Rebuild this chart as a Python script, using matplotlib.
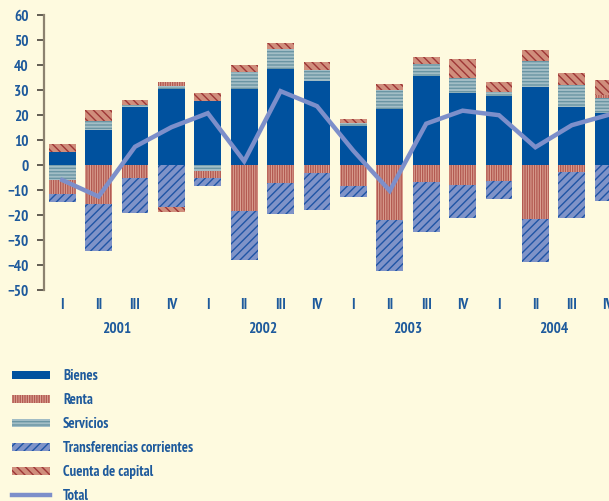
import matplotlib.pyplot as plt
import numpy as np
from matplotlib.patches import Rectangle
from matplotlib.lines import Line2D
from matplotlib.transforms import blended_transform_factory

quarters = ["I", "II", "III", "IV"] * 4
years = ["2001", "2002", "2003", "2004"]

bienes = [5.1, 13.9, 23.0, 30.3, 25.6, 30.3, 38.4, 33.5, 15.5, 22.3, 35.5, 28.7, 27.6, 31.2, 23.2, 20.8]
servicios = [-6.1, 3.7, 1.0, 1.1, -2.4, 6.7, 7.9, 4.4, 1.2, 7.4, 4.7, 5.9, 1.4, 10.3, 8.8, 5.9]
renta = [-5.6, -15.7, -5.3, 1.7, -2.9, -18.5, -7.2, -3.2, -8.5, -22.1, -6.9, -8.0, -6.4, -21.7, -2.9, 1.2]
transferencias = [-3.1, -18.7, -13.9, -16.9, -3.1, -19.5, -12.4, -14.8, -4.3, -20.3, -19.9, -13.2, -7.2, -17.1, -18.3, -14.4]
capital = [3.2, 4.3, 1.9, -1.9, 3.0, 2.9, 2.4, 3.2, 1.6, 2.6, 2.9, 7.7, 4.1, 4.4, 4.7, 6.0]
total = [-6.1, -12.7, 7.2, 15.0, 20.6, 1.4, 29.4, 23.4, 5.6, -10.4, 16.4, 21.6, 19.8, 7.0, 15.8, 19.9]

BG = "#FEFADF"
TXT = "#1E5A9C"
FONT = ["PT Sans Narrow", "Fira Sans Condensed", "Roboto Condensed", "Archivo Narrow", "DejaVu Sans"]

plt.rcParams["font.family"] = FONT
plt.rcParams["font.weight"] = "bold"
plt.rcParams["hatch.linewidth"] = 1.0

# name, values, face colour, hatch colour, hatch
series = [
    ("Bienes", bienes, "#00519E", "#00519E", None),
    ("Servicios", servicios, "#A3BEC6", "#6A95A3", "-----"),
    ("Renta", renta, "#DDA595", "#B35A52", "|||||||"),
    ("Transferencias corrientes", transferencias, "#7F93C8", "#1F55A5", "////"),
    ("Cuenta de capital", capital, "#D08E7C", "#9E3636", "\\\\\\\\"),
]
legend_order = ["Bienes", "Renta", "Servicios", "Transferencias corrientes", "Cuenta de capital"]

fig = plt.figure(figsize=(6.09, 5.02), dpi=100, facecolor=BG)
ax = fig.add_axes([44 / 609, 1 - 291 / 502, (630 - 44) / 609, (291 - 15.5) / 502])
ax.set_facecolor(BG)

x = np.arange(len(bienes))
pos_base = np.zeros(len(x))
neg_base = np.zeros(len(x))
for name, vals, face, hcol, hatch in series:
    v = np.array(vals)
    base = np.where(v >= 0, pos_base, neg_base)
    ax.bar(x, v, bottom=base, width=0.74, color=face, edgecolor=hcol,
           hatch=hatch, linewidth=0, zorder=2)
    pos_base += np.where(v >= 0, v, 0)
    neg_base += np.where(v < 0, v, 0)

ax.plot(x, total, color="#7D8FCA", lw=3.2, zorder=3, solid_joinstyle="miter")

ax.set_xlim(-0.5, 15.6)
ax.set_ylim(-50, 60)
ax.set_yticks(np.arange(-50, 61, 10))
ax.set_xticks(x)
ax.set_xticklabels(quarters)
for s in ["top", "right", "bottom"]:
    ax.spines[s].set_visible(False)
ax.spines["left"].set_color("#8C8270")
ax.spines["left"].set_linewidth(1.6)
ax.tick_params(axis="y", length=5, width=1.3, color="#555048", pad=6,
               labelsize=11, labelcolor=TXT)
ax.tick_params(axis="x", length=0, pad=5, labelsize=11, labelcolor=TXT)

trans = blended_transform_factory(ax.transData, ax.transAxes)
for i, yr in enumerate(years):
    ax.text(4 * i + 1.5, -0.138, yr, transform=trans, ha="center", va="center",
            fontsize=11, color=TXT)

# legend drawn in pixel coordinates
lg = fig.add_axes([0, 0, 1, 1])
lg.set_xlim(0, 609)
lg.set_ylim(502, 0)
lg.axis("off")
lookup = {s[0]: s for s in series}
rows = [376, 400, 424, 448, 472, 496]
for name, ry in zip(legend_order, rows):
    _, _, face, hcol, hatch = lookup[name]
    lg.add_patch(Rectangle((12, ry - 4), 38, 8, facecolor=face, edgecolor=hcol,
                           hatch=hatch, linewidth=0))
    lg.text(63, ry, name, va="center", ha="left", fontsize=10.5, color=TXT)
lg.add_line(Line2D([12, 50], [rows[-1], rows[-1]], color="#7D8FCA", lw=3.2))
lg.text(63, rows[-1], "Total", va="center", ha="left", fontsize=10.5, color=TXT)

fig.savefig("out.png", dpi=100, facecolor=BG)
